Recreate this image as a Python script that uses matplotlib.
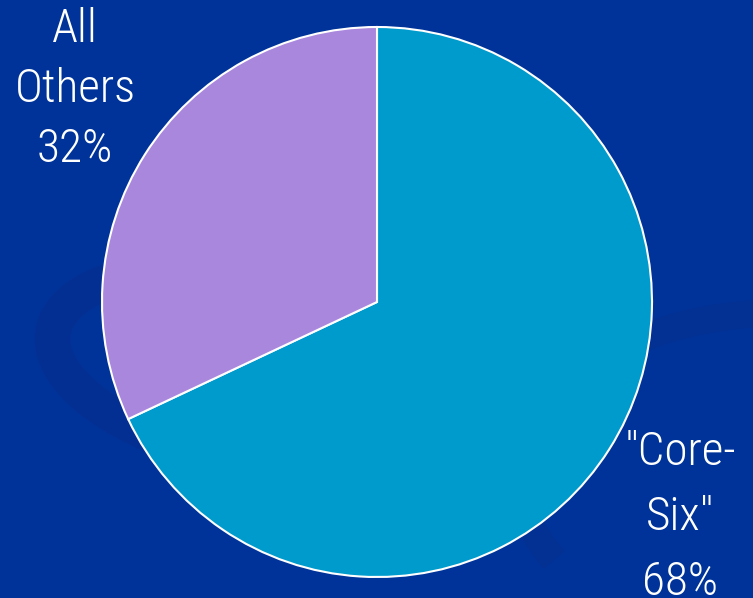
import matplotlib.pyplot as plt
from matplotlib import font_manager
from matplotlib.patches import Arc

labels = ['"Core-\nSix"\n68%', 'All\nOthers\n32%']
values = [68, 32]
colors = ['#009BCD', '#A987DD']
bg = '#003399'

# pick a narrow face if one is there
have = {f.name for f in font_manager.fontManager.ttflist}
narrow = [n for n in ['Liberation Sans Narrow', 'Roboto Condensed',
                      'DejaVu Sans Condensed'] if n in have]
font = narrow[:1] + ['DejaVu Sans']
stretch = 'normal' if narrow else 'condensed'

W, H = 753, 598
fig = plt.figure(figsize=(W / 100, H / 100), dpi=100, facecolor=bg)
ax = fig.add_axes([0, 0, 1, 1])
ax.set_facecolor(bg)

# faint swirls in the background
ax.add_patch(Arc((260, 230), 420, 190, angle=-10, theta1=120, theta2=300,
                 color='#0a2c8a', lw=26, alpha=0.45, zorder=0))
ax.add_patch(Arc((780, 120), 520, 330, angle=0, theta1=95, theta2=200,
                 color='#0a2c8a', lw=20, alpha=0.4, zorder=0))

ax.pie(values, colors=colors, startangle=90, counterclock=False,
       radius=275, center=(377, H - 302), frame=True,
       wedgeprops=dict(edgecolor='white', linewidth=1.5))
ax.set_xlim(0, W)
ax.set_ylim(0, H)
ax.set_aspect('equal')
ax.axis('off')

ax.text(75, H - 89, labels[1], ha='center', va='center', color='white',
        fontsize=34, family=font, fontstretch=stretch, fontweight='light',
        linespacing=1.45)
ax.text(680, H - 517, labels[0], ha='center', va='center', color='white',
        fontsize=34, family=font, fontstretch=stretch, fontweight='light',
        linespacing=1.6)

fig.savefig('out.png', dpi=100, facecolor=bg)
